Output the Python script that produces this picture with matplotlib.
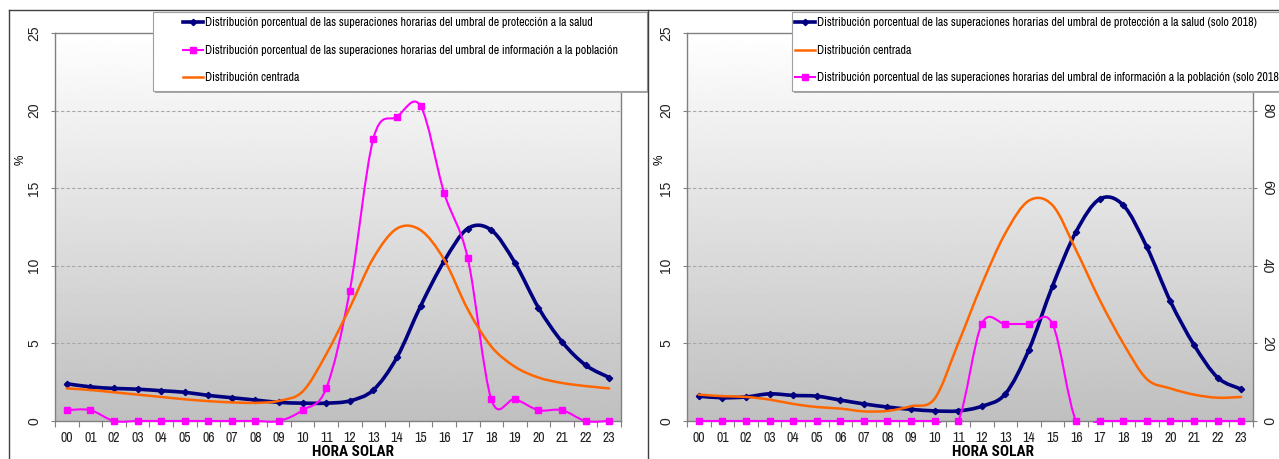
import numpy as np
import matplotlib
matplotlib.use("Agg")
import matplotlib.pyplot as plt
from matplotlib.path import Path
from matplotlib.patches import PathPatch, Rectangle
from matplotlib.lines import Line2D

# ---- data ----
hours = ["00", "01", "02", "03", "04", "05", "06", "07", "08", "09", "10", "11",
         "12", "13", "14", "15", "16", "17", "18", "19", "20", "21", "22", "23"]

# left chart
salud = [2.4, 2.2, 2.1, 2.05, 1.95, 1.85, 1.65, 1.5, 1.35, 1.2, 1.15, 1.15,
         1.3, 2.0, 4.1, 7.4, 10.3, 12.4, 12.3, 10.2, 7.3, 5.1, 3.6, 2.8]
informacion = [0.7, 0.7, 0, 0, 0, 0, 0, 0, 0, 0, 0.7, 2.1,
               8.4, 18.2, 19.6, 20.3, 14.7, 10.5, 1.4, 1.4, 0.7, 0.7, 0, 0]
centrada = [2.1, 2.0, 1.85, 1.7, 1.55, 1.4, 1.28, 1.2, 1.17, 1.3, 1.9, 4.3,
            7.3, 10.5, 12.4, 12.3, 10.4, 7.2, 4.8, 3.5, 2.8, 2.45, 2.25, 2.1]

# right chart (solo 2018)
salud_2018 = [1.6, 1.5, 1.55, 1.75, 1.65, 1.6, 1.35, 1.1, 0.9, 0.75, 0.65, 0.65,
              0.95, 1.75, 4.6, 8.7, 12.2, 14.3, 13.9, 11.2, 7.7, 4.9, 2.8, 2.05]
centrada_2018 = [1.7, 1.6, 1.55, 1.38, 1.1, 0.9, 0.8, 0.62, 0.65, 0.95, 1.44, 5.0,
                 8.8, 12.1, 14.2, 13.9, 11.0, 7.8, 5.0, 2.7, 2.1, 1.7, 1.5, 1.55]
informacion_2018 = [0, 0, 0, 0, 0, 0, 0, 0, 0, 0, 0, 0,
                    25, 25, 25, 25, 0, 0, 0, 0, 0, 0, 0, 0]

lab_salud = "Distribución porcentual de las superaciones horarias del umbral de protección a la salud"
lab_info = "Distribución porcentual de las superaciones horarias del umbral de información a la población"
lab_centr = "Distribución centrada"

NAVY = "#000080"
MAGENTA = "#FF00FF"
ORANGE = "#FF6600"
NARROW = ["Archivo Narrow", "Liberation Sans Narrow", "DejaVu Sans"]
NARROW_BOLD = ["Roboto Condensed", "IBM Plex Sans Condensed", "Fira Sans Condensed", "DejaVu Sans"]
SANS = ["Liberation Sans", "DejaVu Sans"]

W, H = 1279, 459
fig = plt.figure(figsize=(W / 100, H / 100), dpi=100)


def smooth(ax, y, color, lw, z):
    # excel style smoothed line: catmull-rom segments as bezier curves
    x = np.arange(len(y), dtype=float)
    pts = np.column_stack([x, np.asarray(y, dtype=float)])
    n = len(pts)
    verts = [pts[0]]
    codes = [Path.MOVETO]
    for i in range(n - 1):
        p0 = pts[max(i - 1, 0)]
        p1 = pts[i]
        p2 = pts[i + 1]
        p3 = pts[min(i + 2, n - 1)]
        verts += [p1 + (p2 - p0) / 6, p2 - (p3 - p1) / 6, p2]
        codes += [Path.CURVE4] * 3
    patch = PathPatch(Path(verts, codes), facecolor="none", edgecolor=color,
                      lw=lw, zorder=z, capstyle="round", joinstyle="round")
    ax.add_patch(patch)
    patch.set_clip_path(Rectangle((0, -0.004), 1, 1.004, transform=ax.transAxes))
    return patch


def setup(ax, left_px):
    ax.set_position([left_px / W, (H - 421) / H, 566 / W, 388 / H])
    grad = np.linspace(1.0, 0.75, 256).reshape(-1, 1)
    ax.imshow(grad, cmap="gray", vmin=0, vmax=1, extent=[0, 1, 0, 1],
              transform=ax.transAxes, aspect="auto", zorder=0)
    ax.set_xlim(-0.5, 23.5)
    ax.set_ylim(0, 25)
    for v in [5, 10, 15, 20]:
        ax.axhline(v, color="#a8a8a8", lw=0.8, ls=(0, (3, 2)), zorder=1)
    for s in ax.spines.values():
        s.set_color("#808080")
        s.set_linewidth(1)
    ax.set_xticks(np.arange(-0.5, 24, 1))
    ax.set_xticklabels([])
    ax.set_xticks(np.arange(24), minor=True)
    ax.set_xticklabels(hours, minor=True, fontsize=10, family=NARROW, color="#222222")
    ax.tick_params(axis="x", which="major", direction="out", length=4, color="#808080")
    ax.tick_params(axis="x", which="minor", length=0, pad=7)
    ax.set_yticks([0, 5, 10, 15, 20, 25])
    ax.tick_params(axis="y", direction="out", length=3, color="#808080", pad=7,
                   labelsize=10, labelcolor="#222222")
    for t in ax.get_yticklabels():
        t.set_rotation(90)
        t.set_va("center")
        t.set_family(SANS)
    ax.set_xlabel("HORA SOLAR", fontsize=11, fontweight="bold", family=NARROW_BOLD)
    ax.set_ylabel("%", fontsize=8.5, family=SANS)


# ---- left chart ----
axl = fig.add_axes([0, 0, 1, 1])
setup(axl, 55)
axl.xaxis.set_label_coords(0.526, -0.08)
axl.xaxis.label.set_va("center")
axl.yaxis.set_label_coords(-0.05, 0.673)
x = np.arange(24)
smooth(axl, salud, NAVY, 2.6, 4)
axl.plot(x, salud, ls="none", marker="D", ms=3.2, color=NAVY, zorder=5, clip_on=False)
smooth(axl, informacion, MAGENTA, 1.5, 6)
axl.plot(x, informacion, ls="none", marker="s", ms=5, color=MAGENTA, zorder=7, clip_on=False)
smooth(axl, centrada, ORANGE, 1.8, 8)

# ---- right chart ----
axr = fig.add_axes([0, 0, 1, 1])
setup(axr, 687)
axr.xaxis.set_label_coords(0.54, -0.08)
axr.xaxis.label.set_va("center")
axr.yaxis.set_label_coords(-0.038, 0.673)
smooth(axr, salud_2018, NAVY, 2.6, 4)
axr.plot(x, salud_2018, ls="none", marker="D", ms=3.2, color=NAVY, zorder=5, clip_on=False)
smooth(axr, centrada_2018, ORANGE, 1.8, 6)

ax2 = axr.twinx()
ax2.set_position(axr.get_position())
ax2.set_ylim(0, 100)
ax2.set_yticks([0, 20, 40, 60, 80])
ax2.tick_params(axis="y", direction="out", length=3, color="#808080", pad=2,
                labelsize=10, labelcolor="#222222")
for t in ax2.get_yticklabels():
    t.set_rotation(-90)
    t.set_va("center")
    t.set_family(SANS)
for s in ax2.spines.values():
    s.set_visible(False)
smooth(ax2, informacion_2018, MAGENTA, 1.5, 7)
ax2.plot(x, informacion_2018, ls="none", marker="s", ms=5, color=MAGENTA, zorder=8, clip_on=False)

# ---- legends (box drawn separately, excel leaves a wide left margin) ----
h_salud = Line2D([], [], color=NAVY, lw=2.6, marker="D", ms=3.2)
h_info = Line2D([], [], color=MAGENTA, lw=1.5, marker="s", ms=5)
h_centr = Line2D([], [], color=ORANGE, lw=1.8)


def legend_box(x0, x1):
    y0, y1 = 12, 91
    sh = Rectangle(((x0 + 2) / W, 1 - (y1 + 2) / H), (x1 - x0) / W, (y1 - y0) / H,
                   transform=fig.transFigure, facecolor="#a8a8a8", edgecolor="none", zorder=18)
    box = Rectangle((x0 / W, 1 - y1 / H), (x1 - x0) / W, (y1 - y0) / H,
                    transform=fig.transFigure, facecolor="white", edgecolor="#a0a0a0",
                    lw=0.8, zorder=19)
    fig.add_artist(sh)
    fig.add_artist(box)


leg_kw = dict(loc="upper left", bbox_transform=fig.transFigure, borderaxespad=0,
              frameon=False, prop={"family": NARROW, "size": 8.6}, handlelength=1.68,
              handletextpad=0.17, labelspacing=1.4, borderpad=0)
legend_box(153, 647)
legl = fig.legend([h_salud, h_info, h_centr], [lab_salud, lab_info, lab_centr],
                  bbox_to_anchor=(183 / W, 1 - 17 / H), **leg_kw)
legend_box(792, 1300)
legr = fig.legend([h_salud, h_centr, h_info],
                  [lab_salud + " (solo 2018)", lab_centr, lab_info + " (solo 2018)"],
                  bbox_to_anchor=(795 / W, 1 - 17 / H), **leg_kw)
for lg in (legl, legr):
    lg.set_zorder(20)

# ---- chart area borders ----
border = dict(color="#404040", lw=1, transform=fig.transFigure, zorder=25)
fig.add_artist(Line2D([9 / W, 9 / W], [0, 1 - 10 / H], **border))
fig.add_artist(Line2D([9 / W, 1], [1 - 10 / H, 1 - 10 / H], **border))
fig.add_artist(Line2D([648 / W, 648 / W], [0, 1 - 10 / H], **border))

plt.savefig("out.png", dpi=100)
